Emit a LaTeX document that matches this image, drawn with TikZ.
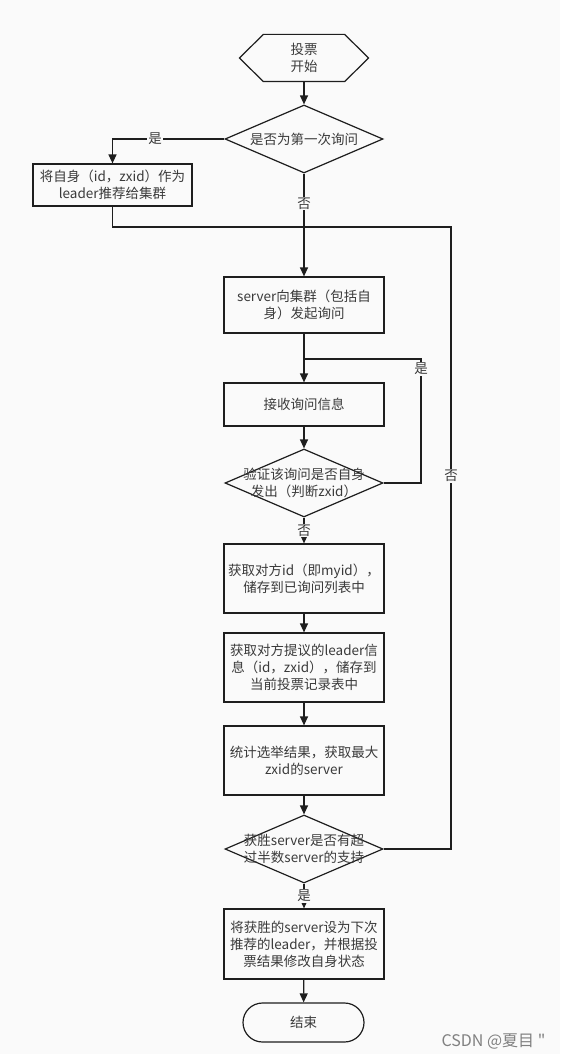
\documentclass[tikz,border=0pt]{standalone}
\usepackage{fontspec}
\setmainfont{Noto Sans CJK SC}
\newfontfamily\wmfont{Noto Sans CJK SC}
\usetikzlibrary{shapes.geometric,arrows.meta}
\definecolor{lc}{HTML}{1E1E1E}
\definecolor{tc}{HTML}{3A3A3A}
\definecolor{bgc}{HTML}{FAFAFA}
\newcommand{\txtfont}{\fontsize{13.5}{17}\selectfont}
\begin{document}
\begin{tikzpicture}[x=1pt,y=-1pt,line width=1.2pt,
  line/.style={draw=lc},
  arr/.style={draw=lc,-{Triangle[length=9pt,width=8pt]}},
  box/.style={draw=lc,fill=bgc,minimum width=160pt,align=center,inner sep=2pt,font=\txtfont,text=tc},
  dia/.style={diamond,draw=lc,fill=bgc,minimum width=158pt,minimum height=68pt,inner sep=0pt},
  dtext/.style={align=center,font=\txtfont,text=tc,inner sep=0pt},
  lbl/.style={fill=bgc,font=\txtfont,text=tc,inner sep=1pt},
  hexn/.style={minimum width=128pt,minimum height=46pt,inner sep=0pt,align=center,font=\txtfont,text=tc}
]
\fill[bgc] (0,0) rectangle (560,1054);
\useasboundingbox (0,0) rectangle (560,1054);

% start hexagon
\node[hexn] (start) at (304,58) {投票\\开始};
\draw[line] ([xshift=24pt]start.north west) -- ([xshift=-24pt]start.north east) -- (start.east)
  -- ([xshift=-24pt]start.south east) -- ([xshift=24pt]start.south west) -- (start.west) -- cycle;

% decisions
\node[dia] (d1) at (304,139) {};
\node[dtext] (d1t) at (d1) {是否为第一次询问};
\node[dia] (d2) at (304,483) {};
\node[dia] (d3) at (304,849) {};

% boxes
\node[box,minimum width=159pt,minimum height=42pt] (b1) at (112.5,185) {将自身（id，zxid）作为\\leader推荐给集群};
\node[box,minimum height=56pt] (b2) at (304,305) {server向集群（包括自\\身）发起询问};
\node[box,minimum height=43pt] (b3) at (304,404.5) {接收询问信息};
\node[box,minimum height=69pt] (b4) at (304,578.5) {获取对方id（即myid），\\储存到已询问列表中};
\node[box,minimum height=69pt] (b5) at (304,667.5) {获取对方提议的leader信\\息（id，zxid），储存到\\当前投票记录表中};
\node[box,minimum height=69pt] (b6) at (304,760.5) {统计选举结果，获取最大\\zxid的server};
\node[box,minimum height=70pt] (b7) at (304,944) {将获胜的server设为下次\\推荐的leader，并根据投\\票结果修改自身状态};
\node[draw=lc,fill=bgc,rounded corners=19.5pt,minimum width=121pt,minimum height=39pt,font=\txtfont,text=tc] (end) at (303.5,1022.5) {结束};

% junction coordinates
\coordinate (m1) at (304,227);
\coordinate (c1) at (451,227);
\coordinate (m2) at (304,359);
\coordinate (c2) at (421,359);

% connectors
\draw[arr] (start) -- (d1);
\draw[arr] (d1.west) -| node[lbl,pos=0.31] (y1) {是} (b1.north);
\draw[arr] (d1.south) -- node[lbl,pos=0.29] (n1) {否} (b2.north);
\draw[line] (b1.south) |- (m1);
\draw[arr] (b2) -- (b3);
\draw[arr] (b3) -- (d2);
\draw[line] (d2.east) -| (c2) -- (m2);
\node[lbl] (y2) at (421,369) {是};
\draw[arr] (d2) -- node[lbl] (n2) {否} (b4);
\draw[arr] (b4) -- (b5);
\draw[arr] (b5) -- (b6);
\draw[arr] (b6) -- (d3);
\draw[line] (d3.east) -| node[lbl,pos=0.8] (n3) {否} (c1) -- (m1);
\draw[arr] (d3) -- node[lbl] (y3) {是} (b7);
\draw[arr] (b7) -- (end);

% decision texts on top
\node[dtext] (d2t) at (d2) {验证该询问是否自身\\发出（判断zxid）};
\node[dtext] (d3t) at (d3) {获胜server是否有超\\过半数server的支持};

% watermark
\node[anchor=east,text=black!50,font=\wmfont\fontsize{16}{16}\selectfont,inner sep=0pt] (wm) at (546,1042) {CSDN @夏目 "};
\end{tikzpicture}
\end{document}
